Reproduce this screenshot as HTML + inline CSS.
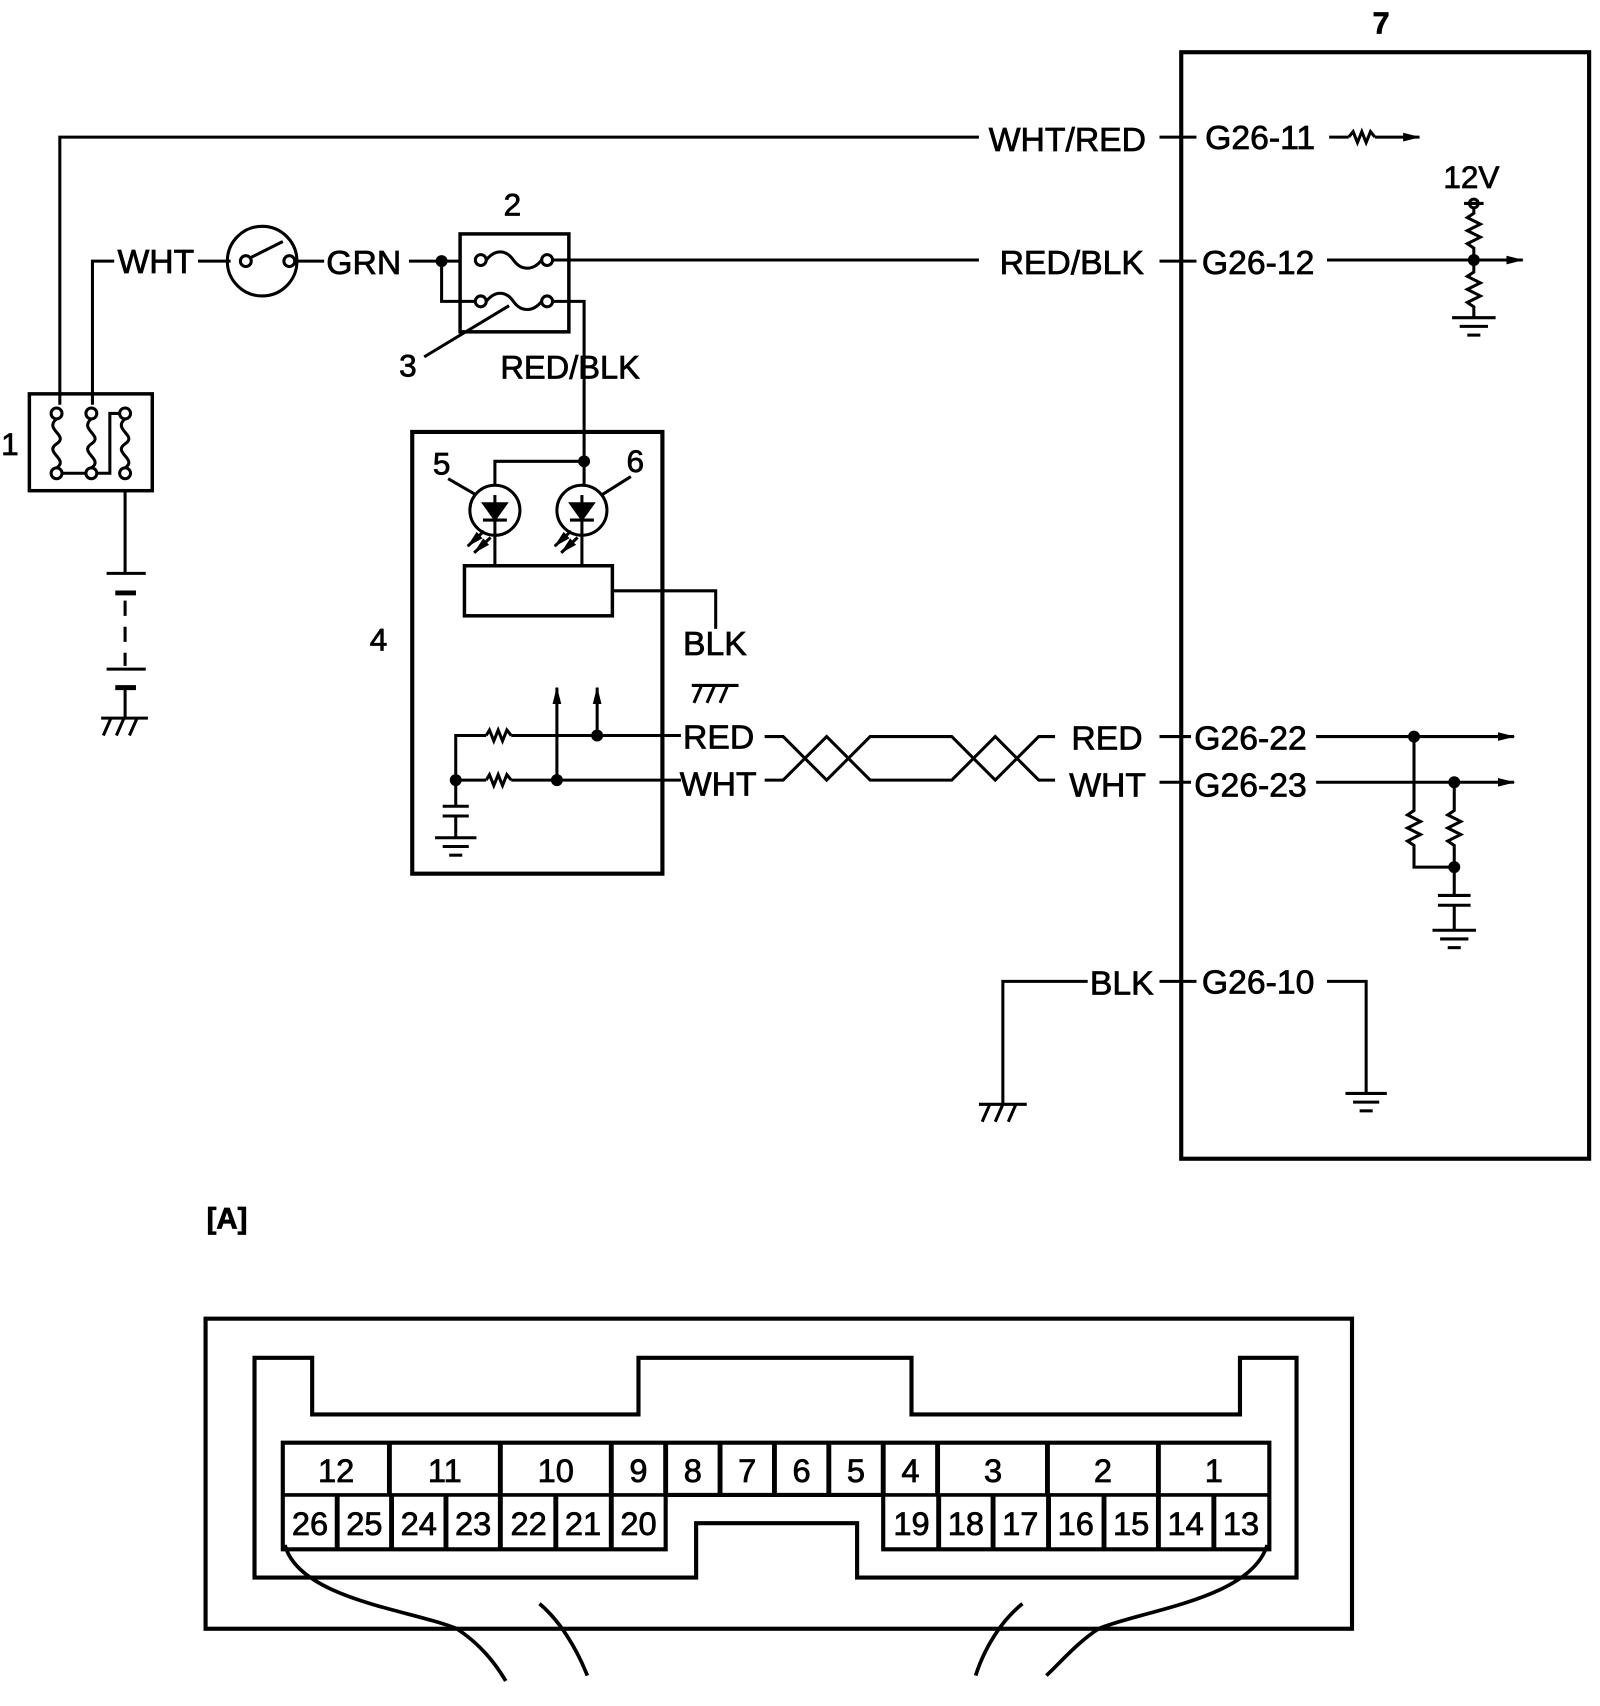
<!DOCTYPE html>
<html><head><meta charset="utf-8"><style>
html,body{margin:0;padding:0;background:#fff;}
svg{display:block;}
text{font-family:"Liberation Sans",Arial,sans-serif;fill:#000;stroke:#000;stroke-width:0.7;}
</style></head><body>
<svg width="1600" height="1706" viewBox="0 0 1471 1568" preserveAspectRatio="none" xmlns="http://www.w3.org/2000/svg">
<defs>
<marker id="ar" markerWidth="16" markerHeight="10" refX="15" refY="5" orient="auto" markerUnits="userSpaceOnUse" viewBox="0 0 16 10"><path d="M0,1 L16,5 L0,9 Z" fill="#000"/></marker>
</defs>
<g fill="none" stroke="#000" stroke-width="2.8">
<rect x="1086" y="48" width="375" height="1017" stroke-width="3.8"/>
<polyline points="55,372 55,126 900,126"/>
<line x1="1066" y1="126" x2="1100" y2="126"/>
<line x1="1222" y1="126" x2="1240" y2="126"/>
<polyline points="1240,126 1244,121 1248,131 1252,121 1256,131 1260,121 1264,126"/>
<line x1="1264" y1="126" x2="1305" y2="126" marker-end="url(#ar)"/>
<circle cx="1355" cy="187" r="4"/>
<line x1="1346" y1="187" x2="1364" y2="187"/>
<polyline points="1355,191 1355,196 1349,200 1361,206 1349,212 1361,218 1349,224 1355,228 1355,250 1349,254 1361,260 1349,266 1361,272 1349,278 1355,282 1355,292"/>
<line x1="1335" y1="292" x2="1375" y2="292"/>
<line x1="1342" y1="300" x2="1368" y2="300"/>
<line x1="1349" y1="308" x2="1361" y2="308"/>
<polyline points="85,372 85,240 105,240"/>
<line x1="182" y1="240" x2="212" y2="240"/>
<circle cx="241" cy="240" r="32"/>
<circle cx="226" cy="240" r="5"/>
<circle cx="266" cy="240" r="5"/>
<line x1="230" y1="237" x2="260" y2="222"/>
<line x1="271" y1="240" x2="298" y2="240"/>
<line x1="376" y1="240" x2="423" y2="240"/>
<rect x="423" y="215" width="100" height="90" stroke-width="3.2"/>
<circle cx="442" cy="239" r="5"/><circle cx="503" cy="239" r="5"/>
<path d="M447,239 C455,229 465,229 472,239 C479,249 490,249 498,239"/>
<circle cx="442" cy="277" r="5"/><circle cx="503" cy="277" r="5"/>
<path d="M447,277 C455,267 465,267 472,277 C479,287 490,287 498,277"/>
<polyline points="406,240 406,277 437,277"/>
<line x1="508" y1="239" x2="900" y2="239"/>
<polyline points="508,277 537,277 537,424"/>
<line x1="390" y1="328" x2="468" y2="281"/>
<line x1="1066" y1="240" x2="1100" y2="240"/>
<line x1="1220" y1="239" x2="1400" y2="239" marker-end="url(#ar)"/>
<rect x="27" y="362" width="113" height="89" stroke-width="3.2"/>
<circle cx="52" cy="380" r="5"/><circle cx="52" cy="435" r="5"/>
<circle cx="84" cy="380" r="5"/><circle cx="84" cy="435" r="5"/>
<circle cx="115" cy="380" r="5"/><circle cx="115" cy="435" r="5"/>
<path d="M52,385 C40,395 64,400 52,408 C40,416 64,422 52,430"/>
<path d="M84,385 C72,395 96,400 84,408 C72,416 96,422 84,430"/>
<path d="M115,385 C103,395 127,400 115,408 C103,416 127,422 115,430"/>
<polyline points="57,435 79,435"/><polyline points="89,435 101,435 101,380 110,380"/>
<line x1="115" y1="451" x2="115" y2="527"/>
<line x1="98" y1="527" x2="134" y2="527"/>
<line x1="106" y1="545" x2="125" y2="545" stroke-width="4.5"/>
<line x1="115" y1="552" x2="115" y2="612" stroke-dasharray="14,10"/>
<line x1="98" y1="615" x2="134" y2="615"/>
<line x1="106" y1="632" x2="125" y2="632" stroke-width="4.5"/>
<line x1="115" y1="632" x2="115" y2="660"/>
<line x1="93" y1="660" x2="136" y2="660"/>
<path d="M102,660 L95,676 M114,660 L107,676 M126,660 L119,676"/>
<rect x="379" y="397" width="230" height="406" stroke-width="3.8"/>
<polyline points="455,446 455,424 537,424 537,446"/>
<circle cx="455" cy="469" r="23"/>
<circle cx="535" cy="469" r="23"/>
<path d="M445,463 L465,463 L455,477 Z" fill="#000"/><line x1="444" y1="478" x2="466" y2="478"/>
<path d="M525,463 L545,463 L535,477 Z" fill="#000"/><line x1="524" y1="478" x2="546" y2="478"/>
<line x1="455" y1="455" x2="455" y2="463"/><line x1="535" y1="455" x2="535" y2="463"/>
<line x1="455" y1="478" x2="455" y2="520"/><line x1="535" y1="478" x2="535" y2="520"/>
<line x1="412" y1="440" x2="438" y2="455"/>
<line x1="580" y1="438" x2="553" y2="455"/>
<line x1="445" y1="488" x2="430" y2="502" marker-end="url(#ar)"/>
<line x1="451" y1="494" x2="436" y2="508" marker-end="url(#ar)"/>
<line x1="525" y1="488" x2="510" y2="502" marker-end="url(#ar)"/>
<line x1="531" y1="494" x2="516" y2="508" marker-end="url(#ar)"/>
<rect x="427" y="520" width="136" height="46" stroke-width="3.2"/>
<polyline points="563,543 658,543 658,578"/>
<line x1="636" y1="630" x2="679" y2="630"/>
<path d="M645,630 L638,646 M657,630 L650,646 M669,630 L662,646"/>
<polyline points="419,717 419,676 447,676"/>
<polyline points="447,676 450,671 454,681 458,671 462,681 466,671 470,676"/>
<line x1="470" y1="676" x2="626" y2="676"/>
<line x1="419" y1="717" x2="447" y2="717"/>
<polyline points="447,717 450,712 454,722 458,712 462,722 466,712 470,717"/>
<line x1="470" y1="717" x2="626" y2="717"/>
<line x1="512" y1="717" x2="512" y2="632" marker-end="url(#ar)"/>
<line x1="549" y1="676" x2="549" y2="632" marker-end="url(#ar)"/>
<line x1="419" y1="717" x2="419" y2="740"/>
<line x1="407" y1="741" x2="431" y2="741"/>
<line x1="407" y1="750" x2="431" y2="750"/>
<line x1="419" y1="750" x2="419" y2="770"/>
<line x1="400" y1="770" x2="438" y2="770"/>
<line x1="407" y1="778" x2="431" y2="778"/>
<line x1="413" y1="786" x2="425" y2="786"/>
<polyline points="703,677 720,677 760,717 800,677 875,677 915,717 955,677 970,677"/>
<polyline points="703,717 720,717 760,677 800,717 875,717 915,677 955,717 970,717"/>
<line x1="1066" y1="677" x2="1095" y2="677"/>
<line x1="1066" y1="719" x2="1095" y2="719"/>
<line x1="1086" y1="669" x2="1086" y2="685"/>
<line x1="1210" y1="677" x2="1392" y2="677" marker-end="url(#ar)"/>
<line x1="1210" y1="719" x2="1392" y2="719" marker-end="url(#ar)"/>
<polyline points="1300,677 1300,745 1294,749 1306,755 1294,761 1306,767 1294,773 1300,777 1300,797 1337,797"/>
<polyline points="1337,719 1337,745 1331,749 1343,755 1331,761 1343,767 1331,773 1337,777 1337,822"/>
<line x1="1322" y1="823" x2="1352" y2="823"/>
<line x1="1322" y1="832" x2="1352" y2="832"/>
<line x1="1337" y1="832" x2="1337" y2="855"/>
<line x1="1317" y1="855" x2="1357" y2="855"/>
<line x1="1324" y1="863" x2="1350" y2="863"/>
<line x1="1331" y1="871" x2="1343" y2="871"/>
<polyline points="922,1015 922,902 1000,902"/>
<line x1="1066" y1="902" x2="1100" y2="902"/>
<polyline points="1220,902 1256,902 1256,1005"/>
<line x1="1237" y1="1005" x2="1275" y2="1005"/>
<line x1="1244" y1="1013" x2="1268" y2="1013"/>
<line x1="1250" y1="1021" x2="1262" y2="1021"/>
<line x1="900" y1="1015" x2="944" y2="1015"/>
<path d="M910,1015 L903,1031 M922,1015 L915,1031 M934,1015 L927,1031"/>
<rect x="189" y="1212" width="1054" height="285" stroke-width="3.8"/>
<path d="M234,1248 L287,1248 L287,1300 L587,1300 L587,1248 L838,1248 L838,1300 L1140,1300 L1140,1248 L1192,1248 L1192,1450 L788,1450 L788,1400 L640,1400 L640,1450 L234,1450 Z" stroke-width="3.8"/>
<path d="M260,1326 L1167,1326 L1167,1424 L812,1424 L812,1374 L612,1374 L612,1424 L260,1424 Z" stroke-width="3.8"/>
<line x1="260" y1="1374" x2="612" y2="1374" stroke-width="3.4"/>
<line x1="812" y1="1374" x2="1167" y2="1374" stroke-width="3.4"/>
<g stroke-width="4.5">
<line x1="358" y1="1326" x2="358" y2="1374"/><line x1="460" y1="1326" x2="460" y2="1374"/>
<line x1="562" y1="1326" x2="562" y2="1374"/><line x1="612" y1="1326" x2="612" y2="1374"/>
<line x1="662" y1="1326" x2="662" y2="1374"/><line x1="712" y1="1326" x2="712" y2="1374"/>
<line x1="762" y1="1326" x2="762" y2="1374"/><line x1="812" y1="1326" x2="812" y2="1374"/>
<line x1="862" y1="1326" x2="862" y2="1374"/><line x1="963" y1="1326" x2="963" y2="1374"/>
<line x1="1065" y1="1326" x2="1065" y2="1374"/>
<line x1="310" y1="1374" x2="310" y2="1424"/><line x1="360" y1="1374" x2="360" y2="1424"/>
<line x1="410" y1="1374" x2="410" y2="1424"/><line x1="460" y1="1374" x2="460" y2="1424"/>
<line x1="511" y1="1374" x2="511" y2="1424"/><line x1="562" y1="1374" x2="562" y2="1424"/>
<line x1="863" y1="1374" x2="863" y2="1424"/><line x1="913" y1="1374" x2="913" y2="1424"/>
<line x1="964" y1="1374" x2="964" y2="1424"/><line x1="1015" y1="1374" x2="1015" y2="1424"/>
<line x1="1065" y1="1374" x2="1065" y2="1424"/><line x1="1116" y1="1374" x2="1116" y2="1424"/>
</g>
<path d="M262,1420 C275,1470 380,1480 420,1497 C440,1510 455,1528 465,1545" stroke-width="3.4"/>
<path d="M496,1474 C515,1490 530,1515 540,1540" stroke-width="3.4"/>
<path d="M940,1474 C920,1490 905,1515 897,1540" stroke-width="3.4"/>
<path d="M1165,1420 C1150,1470 1050,1480 1010,1497 C990,1510 975,1528 962,1540" stroke-width="3.4"/>
</g>
<g fill="#000">
<circle cx="406" cy="240" r="5.5"/><circle cx="537" cy="424" r="5.5"/>
<circle cx="1355" cy="239" r="5.5"/>
<circle cx="419" cy="717" r="5.5"/><circle cx="512" cy="717" r="5.5"/><circle cx="549" cy="676" r="5.5"/>
<circle cx="1300" cy="677" r="5.5"/><circle cx="1337" cy="719" r="5.5"/><circle cx="1337" cy="797" r="5.5"/>
</g>
<line x1="1086" y1="118" x2="1086" y2="134" stroke="#000" stroke-width="2.5"/>
<g font-size="31">
<text x="1262" y="31" font-weight="bold" font-size="28">7</text>
<text x="909" y="139">WHT/RED</text>
<text x="1108" y="137">G26-11</text>
<text x="1327" y="173" font-size="29">12V</text>
<text x="108" y="251">WHT</text>
<text x="300" y="252">GRN</text>
<text x="463" y="198" font-size="29">2</text>
<text x="919" y="252">RED/BLK</text>
<text x="1105" y="252">G26-12</text>
<text x="367" y="346" font-size="29">3</text>
<text x="460" y="348" font-size="30">RED/BLK</text>
<text x="1" y="418" font-size="29">1</text>
<text x="398" y="436" font-size="29">5</text>
<text x="576" y="434" font-size="29">6</text>
<text x="340" y="598" font-size="29">4</text>
<text x="628" y="602">BLK</text>
<text x="628" y="688">RED</text>
<text x="625" y="731">WHT</text>
<text x="985" y="689">RED</text>
<text x="983" y="732">WHT</text>
<text x="1098" y="689">G26-22</text>
<text x="1098" y="732">G26-23</text>
<text x="1002" y="914">BLK</text>
<text x="1105" y="913">G26-10</text>
<text x="190" y="1129" font-weight="bold" font-size="27">[A]</text>
</g>
<g font-size="30" text-anchor="middle">
<text x="309" y="1362">12</text><text x="409" y="1362">11</text><text x="511" y="1362">10</text>
<text x="587" y="1362">9</text><text x="637" y="1362">8</text><text x="687" y="1362">7</text>
<text x="737" y="1362">6</text><text x="787" y="1362">5</text><text x="837" y="1362">4</text>
<text x="913" y="1362">3</text><text x="1014" y="1362">2</text><text x="1116" y="1362">1</text>
<text x="285" y="1411">26</text><text x="335" y="1411">25</text><text x="385" y="1411">24</text>
<text x="435" y="1411">23</text><text x="486" y="1411">22</text><text x="536" y="1411">21</text>
<text x="587" y="1411">20</text>
<text x="838" y="1411">19</text><text x="888" y="1411">18</text><text x="938" y="1411">17</text>
<text x="989" y="1411">16</text><text x="1040" y="1411">15</text><text x="1090" y="1411">14</text>
<text x="1141" y="1411">13</text>
</g>
</svg>
</body></html>
